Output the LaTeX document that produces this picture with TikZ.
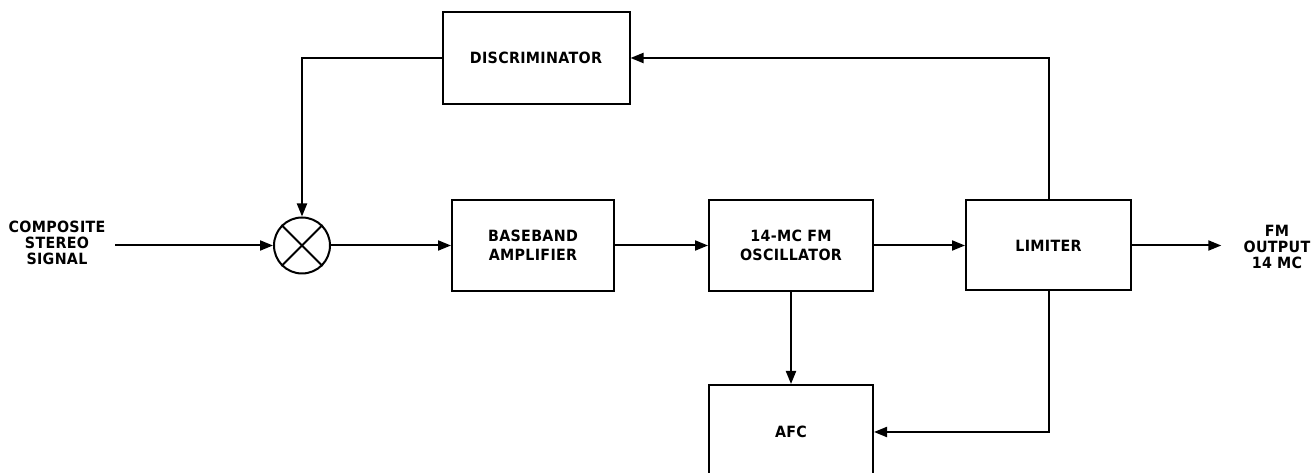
\documentclass[tikz,border=0pt]{standalone}
\usepackage{fontspec}
\setmainfont{DejaVu Sans}[FakeStretch=0.92,LetterSpace=2]
\usetikzlibrary{arrows.meta}

\begin{document}
\begin{tikzpicture}[x=1pt,y=1pt,line width=2pt,
  >={Triangle[length=13pt,width=10pt]},
  blk/.style={draw,align=center,font=\bfseries\fontsize{15.5}{19}\selectfont},
  lbl/.style={align=center,font=\bfseries\fontsize{15.5}{16}\selectfont}]

\useasboundingbox (0,0) rectangle (1312,473);

\node[blk,minimum width=187pt,minimum height=92pt] (disc) at (536,415) {DISCRIMINATOR};
\node[draw,circle,minimum size=56pt,inner sep=0pt] (mix) at (302,227.5) {};
\node[blk,minimum width=162pt,minimum height=91pt] (base) at (533,227.5) {BASEBAND\\AMPLIFIER};
\node[blk,minimum width=164pt,minimum height=91pt] (osc) at (791,227.5) {14-MC FM\\OSCILLATOR};
\node[blk,minimum width=165pt,minimum height=90pt] (lim) at (1048.5,227.5) {LIMITER};
\node[blk,minimum width=164pt,minimum height=94pt] (afc) at (791,41) {AFC};

\node[lbl] (in) at (57,230) {COMPOSITE\\STEREO\\SIGNAL};
\node[lbl] (out) at (1277,226) {FM\\OUTPUT\\14 MC};

\draw (mix.north west) -- (mix.south east);
\draw (mix.north east) -- (mix.south west);

\draw[->] (115,0 |- mix) -- (mix.west);
\draw[->] (mix) -- (base);
\draw[->] (base) -- (osc);
\draw[->] (osc) -- (lim);
\draw[->,shorten >=18pt] (lim) -- (out.west |- lim);
\draw[->] (lim.north) |- (disc.east);
\draw[->] (disc.west) -| (mix.north);
\draw[->] (osc) -- (afc);
\draw[->] (lim.south) |- (afc.east);

\end{tikzpicture}
\end{document}
